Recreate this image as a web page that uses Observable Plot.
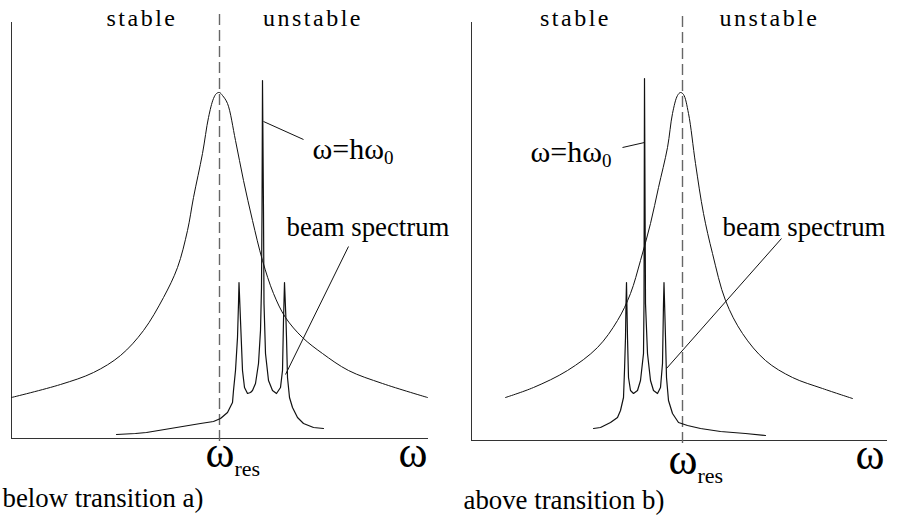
<!DOCTYPE html>
<html><head><meta charset="utf-8">
<script src="https://cdn.jsdelivr.net/npm/d3@7"></script>
<script src="https://cdn.jsdelivr.net/npm/@observablehq/plot@0.6"></script>
<style>
body{margin:0;background:#fff;}
#wrap{position:relative;width:901px;height:517px;overflow:hidden;background:#fff;}
#wrap svg{position:absolute;top:0;}
</style></head><body><div id="wrap"></div>
<script>
// ---- Panel a) below transition: x = ω − ω_res (arb. units), y = amplitude (arb. units)
const lorentzA = [[-20.8,4.1],[-15.9,5.4],[-12.6,6.6],[-9.9,8.3],[-7.6,10.8],[-5.6,14.1],[-4.2,17.1],[-3.2,20.8],[-2.6,24.1],[-1.7,28.5],[-1.1,32.1],[-0.6,34.0],[-0.3,34.5],[0,34.6],[0.3,34.3],[0.8,33.5],[1.6,29.8],[2.4,25.8],[3.3,21.8],[4.3,17.8],[5.4,14.5],[6.6,12.1],[8.3,10.1],[10.3,8.5],[12.9,6.8],[16.3,5.5],[20.8,4.1]];
const spectrumA = [[-10.3,0.4],[-8.4,0.5],[-7.3,0.6],[-4.9,1.0],[-1.9,1.5],[-0.6,1.7],[0.1,2.0],[0.8,2.6],[1.3,3.6],[1.4,4.8],[1.6,6.8],[1.8,10.1],[1.9,13.5],[1.95,15.6],[2.1,11.8],[2.3,6.8],[2.5,5.1],[2.8,4.5],[3.1,4.6],[3.3,4.8],[3.6,5.5],[3.9,7.5],[4.1,10.8],[4.2,15.1],[4.25,22.6],[4.3,35.8],[4.4,22.6],[4.45,13.5],[4.6,8.5],[4.9,5.8],[5.3,4.8],[5.7,4.5],[6.1,5.1],[6.3,6.8],[6.4,11.8],[6.5,15.6],[6.65,11.8],[6.7,10.1],[6.8,6.1],[7.0,4.1],[7.3,3.1],[7.8,2.1],[8.4,1.5],[9.4,1.1],[10.4,1.0]];
const linksA = [[4.4,31.7,8.4,29.9],[6.6,6.4,12.9,19.2]];
const labelsA = [
  ["stable",-7.75,41.3,"region"],["unstable",9.35,41.3,"region"],
  ["ω=hω_0",9.3,28.0,"harm"],["beam spectrum",6.7,20.3,"beam"],
  ["ω_res",-1.4,-2.8,"axis"],["ω",17.9,-2.8,"axis"],
  ["below transition a)",-21.7,-6.8,"caption"]
];

// ---- Panel b) above transition
const lorentzB = [[-17.7,4.3],[-14.9,5.3],[-11.5,7.0],[-8.5,9.3],[-6.5,12.0],[-5.2,14.7],[-4.2,18.0],[-3.2,21.7],[-2.4,25.3],[-1.5,29.3],[-1.0,32.7],[-0.5,34.5],[-0.2,34.8],[0.1,34.6],[0.6,32.7],[1.3,27.7],[2.1,22.7],[3.0,18.7],[4.3,14.0],[6.0,10.7],[8.3,8.0],[11.0,6.3],[14.0,5.2],[17.0,4.2]];
const spectrumB = [[-8.9,1.2],[-8.2,1.3],[-7.2,1.8],[-6.5,2.3],[-6.2,3.0],[-5.9,4.3],[-5.8,7.0],[-5.7,10.3],[-5.65,13.7],[-5.6,15.8],[-5.5,10.3],[-5.4,6.3],[-5.2,5.0],[-4.9,4.7],[-4.5,5.0],[-4.2,6.0],[-3.9,8.7],[-3.85,13.7],[-3.8,36.2],[-3.7,13.7],[-3.5,8.7],[-3.2,6.0],[-2.9,5.0],[-2.5,4.7],[-2.2,5.3],[-2.0,7.7],[-1.9,13.7],[-1.85,15.8],[-1.7,10.3],[-1.6,6.3],[-1.4,4.0],[-1.0,2.7],[-0.4,1.8],[0.5,1.5],[1.8,1.2],[3.8,0.9],[6.3,0.7],[8.3,0.5]];
const linksB = [[-3.8,29.8,-6.0,29.3],[-1.6,7.2,9.9,20.2]];
const labelsB = [
  ["stable",-10.7,41.5,"region"],["unstable",8.7,41.5,"region"],
  ["ω=hω_0",-15.2,27.9,"harm"],["beam spectrum",4.0,20.5,"beam"],
  ["ω_res",-1.4,-3.3,"axis"],["ω",17.3,-2.8,"axis"],
  ["above transition b)",-21.9,-6.8,"caption"]
];

const kinds = {
  region: {size: 24, anchor: "middle", spacing: 2.5},
  harm: {size: 30, anchor: "start", spacing: 0, subSize: 19, subDy: 5},
  beam: {size: 26.8, anchor: "start", spacing: 0},
  axis: {size: 44, anchor: "start", spacing: 0, subSize: 22, subDy: 9},
  caption: {size: 26.8, anchor: "start", spacing: 0}
};
const SERIF = "'Liberation Serif', Tinos, 'Times New Roman', serif";

function panel({lorentz, spectrum, links, labels, xDomain, yDomain, resTop, width, left, margins}) {
  const P = d => ({x: d[0], y: d[1]});
  const linkData = links.map(d => ({x1: d[0], y1: d[1], x2: d[2], y2: d[3]}));
  const labelData = labels.map(d => ({text: d[0], x: d[1], y: d[2], kind: d[3]}));
  const textMarks = Object.entries(kinds).map(([k, s]) =>
    Plot.text(labelData.filter(d => d.kind === k), {
      x: "x", y: "y", text: "text", textAnchor: s.anchor, lineAnchor: "bottom",
      fontSize: s.size, fontFamily: SERIF, fill: "#000"
    }));
  const svg = Plot.plot({
    width, height: 517,
    marginLeft: margins[0], marginRight: margins[1], marginTop: margins[2], marginBottom: margins[3],
    x: {domain: xDomain, axis: null},
    y: {domain: yDomain, axis: null},
    style: {background: "white", overflow: "visible", fontFamily: SERIF},
    marks: [
      Plot.ruleX([xDomain[0]], {stroke: "#333", strokeWidth: 1}),
      Plot.ruleY([yDomain[0]], {stroke: "#333", strokeWidth: 1}),
      Plot.ruleX([0], {y1: -0.3, y2: resTop, stroke: "#666", strokeWidth: 1.4, strokeDasharray: "11,5"}),
      Plot.line(lorentz.map(P), {x: "x", y: "y", curve: "catmull-rom", stroke: "#111", strokeWidth: 1}),
      Plot.line(spectrum.map(P), {x: "x", y: "y", stroke: "#111", strokeWidth: 1.2}),
      Plot.link(linkData, {x1: "x1", y1: "y1", x2: "x2", y2: "y2", stroke: "#111", strokeWidth: 1}),
      ...textMarks
    ]
  });
  d3.select(svg).selectAll("text").each(function() {
    const t = this.textContent;
    const lab = labelData.find(d => d.text === t);
    if (!lab) return;
    const s = kinds[lab.kind];
    if (s.spacing) this.setAttribute("letter-spacing", s.spacing);
    if (t.includes("_")) {
      const [a, b] = t.split("_");
      const sel = d3.select(this);
      sel.text(a);
      sel.append("tspan").attr("dy", s.subDy).attr("font-size", s.subSize).text(b);
    }
  });
  svg.style.left = left + "px";
  return svg;
}

const wrap = document.getElementById("wrap");
wrap.append(panel({
  lorentz: lorentzA, spectrum: spectrumA, links: linksA, labels: labelsA,
  xDomain: [-20.8, 20.9], yDomain: [0, 41.6], resTop: 42.4,
  width: 450, left: 0, margins: [11, 22, 22, 79]
}));
wrap.append(panel({
  lorentz: lorentzB, spectrum: spectrumB, links: linksB, labels: labelsB,
  xDomain: [-21.1, 20.5], yDomain: [0, 41.8], resTop: 42.5,
  width: 451, left: 450, margins: [21, 14, 22, 77]
}));
</script>
</body></html>
